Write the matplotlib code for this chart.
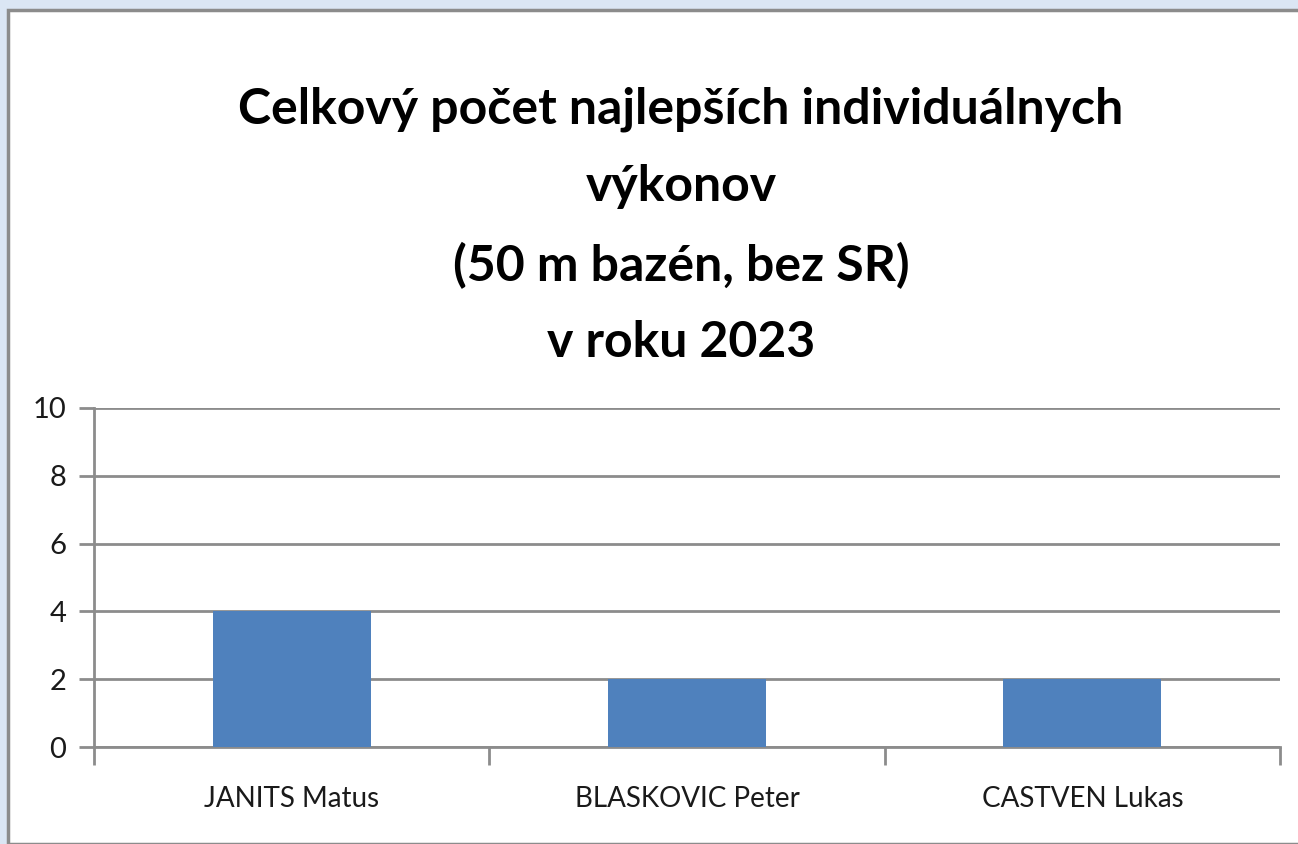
import matplotlib
matplotlib.use("Agg")
import matplotlib.pyplot as plt
from matplotlib.patches import Rectangle
import numpy as np

plt.rcParams['font.family'] = ['Lato', 'DejaVu Sans']

names = ["JANITS Matus", "BLASKOVIC Peter", "CASTVEN Lukas"]
counts = [4, 2, 2]
yticks = [0, 2, 4, 6, 8, 10]
title = "Celkový počet najlepších individuálnych\nvýkonov\n(50 m bazén, bez SR)\nv roku 2023"

W, H = 1298, 844
fig = plt.figure(figsize=(W / 100, H / 100), dpi=100)
fig.patch.set_facecolor("#dbe6f4")

# white chart panel with grey frame
panel = Rectangle((8 / W, 0), 1.2, 1 - 10 / H, transform=fig.transFigure,
                  facecolor="white", edgecolor="#8c8c8c", linewidth=2.5, zorder=-10)
fig.patches.append(panel)

ax = fig.add_axes([94 / W, 1 - 747 / H, (1280 - 94) / W, (747 - 408) / H])
ax.set_facecolor("none")
x = np.arange(len(names))
ax.bar(x, counts, width=0.4, color="#4f81bd", zorder=3)
ax.set_xlim(-0.5, len(names) - 0.5)
ax.set_ylim(0, 10)
ax.set_yticks(yticks)
ax.set_yticklabels([str(v) for v in yticks], fontsize=21, color="#1a1a1a")
ax.set_xticks(x)
ax.set_xticklabels(names, fontsize=20, color="#1a1a1a")
ax.tick_params(axis="x", length=0, pad=28)
ax.tick_params(axis="y", length=11, width=2, color="#8c8c8c", pad=9)
# category separators below the x axis
ax.set_xticks(np.arange(len(names) + 1) - 0.5, minor=True)
ax.tick_params(axis="x", which="minor", length=13, width=2, color="#8c8c8c")
ax.grid(axis="y", color="#8c8c8c", linewidth=2, zorder=1)
for s in ["top", "right"]:
    ax.spines[s].set_visible(False)
ax.spines["left"].set_color("#8c8c8c")
ax.spines["left"].set_linewidth(2)
ax.spines["bottom"].set_color("#8c8c8c")
ax.spines["bottom"].set_linewidth(2)

fig.text(681 / W, 1 - 226 / H, title, ha="center", va="center", fontsize=36,
         fontweight="bold", color="black", linespacing=1.85)

fig.savefig("out.png", dpi=100, facecolor=fig.get_facecolor())
